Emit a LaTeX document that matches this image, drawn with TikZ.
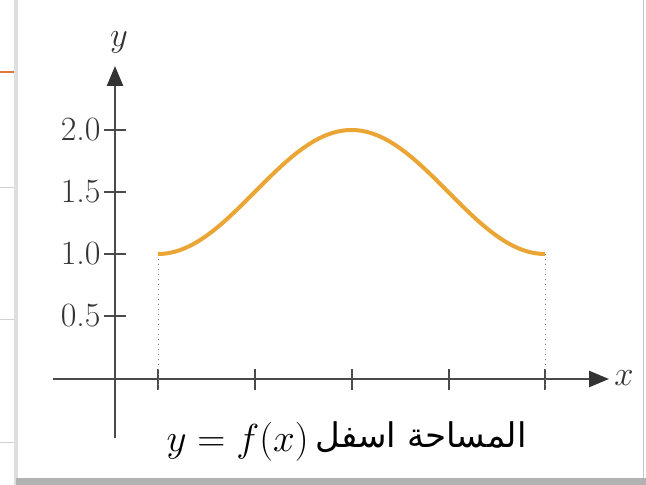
\documentclass[tikz,border=0pt]{standalone}
\usepackage{fontspec}
\usetikzlibrary{arrows.meta}
\TeXXeTstate=1
\newfontfamily\arabicfont[Script=Arabic]{DejaVu Sans}
\definecolor{axisgray}{HTML}{4A4A4A}
\definecolor{labelgray}{HTML}{333333}
\definecolor{curveorange}{HTML}{EBA535}
\definecolor{slideorange}{HTML}{E2793A}
\begin{document}
\begin{tikzpicture}[x=0.5pt,y=-0.5pt,
 axis/.style={draw=axisgray, line width=1.25pt},
 tickmark/.style={draw=axisgray, line width=1.1pt},
 ticklabel/.style={text=labelgray, font=\fontsize{17}{20}\selectfont, anchor=east, inner sep=0pt},
 axislabel/.style={text=labelgray, font=\fontsize{17}{20}\selectfont, inner sep=0pt},
 guide/.style={draw=gray, line width=0.5pt, dotted},
 curvestyle/.style={draw=curveorange, line width=2pt},
 arrowtip/.style={-{Triangle[length=10pt,width=8pt,color=black!80]}}
]
\useasboundingbox (0,0) rectangle (646,485);
% slide background
\fill[white] (0,0) rectangle (646,485);
\draw[slideorange, line width=1pt] (0,72) -- (16,72);
\foreach \yy in {188,320,442} \draw[gray!35, line width=0.5pt] (0,\yy) -- (16,\yy);
% panel with shadow
\fill[gray!25] (14,0) rectangle (18,485);
\fill[gray!60] (16,478) rectangle (646,485);
\fill[white] (18,0) rectangle (643,478);
\draw[gray!45, line width=0.6pt] (643.5,0) -- (643.5,478);
% axes
\coordinate (xs) at (53,379);
\coordinate (xe) at (609,379);
\coordinate (ys) at (115,438);
\coordinate (ye) at (115,66);
\draw[axis, arrowtip] (xs) -- (xe);
\draw[axis, arrowtip] (ys) -- (ye);
\node[axislabel] (ylab) at (119,42) {$y$};
\node[axislabel] (xlab) at (624,378) {$x$};
% y ticks
\foreach \v/\yy/\n in {2.0/130/a, 1.5/192/b, 1.0/254/c, 0.5/316/d}{
  \draw[tickmark] (104,\yy) -- (126,\yy);
  \node[ticklabel] (yt\n) at (101,\yy) {\v};
}
% x ticks
\foreach \xx in {158,255,352,449,545}
  \draw[tickmark] (\xx,369) -- (\xx,390);
% guides
\coordinate (pa) at (158,254);
\coordinate (pb) at (545,254);
\coordinate (ga) at (158,392);
\coordinate (gb) at (545,392);
\draw[guide] (pa) -- (ga);
\draw[guide] (pb) -- (gb);
% curve
\draw[curvestyle] plot[domain=0:1, samples=90] ({158+387*\x}, {378-124*(1.5-0.5*cos(360*\x))});
% caption box
\fill[white] (135,402) rectangle (548,477);
\node[anchor=base east, inner sep=0pt, font=\fontsize{20.74}{24}\selectfont] (mathtext) at (309,451) {\scalebox{0.94}{$y = f(x)$}};
\node[anchor=base east, inner sep=0pt, font=\arabicfont\fontsize{17}{20}\selectfont] (artext) at (527,447) {\beginR المساحة اسفل\endR};
\end{tikzpicture}
\end{document}
